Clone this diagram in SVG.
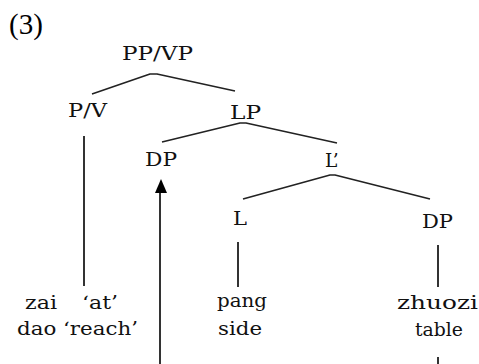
<svg xmlns="http://www.w3.org/2000/svg" width="479" height="364" viewBox="0 0 479 364">
<style>
.lbl{font-family:"DejaVu Serif","Liberation Serif",serif;font-size:18.5px;fill:#111}
.br{fill:none;stroke:#222;stroke-width:1.6;stroke-linejoin:round}
.vl{fill:none;stroke:#333;stroke-width:2}
</style>
<rect width="479" height="364" fill="#fff"/>
<text x="9" y="34" style="font-family:'Liberation Serif',serif;font-size:29px;fill:#000">(3)</text>
<g id="connectors">
<polyline class="br" points="92,94 150,74 157,74 235,91"/>
<polyline class="br" points="162,142 240,123 246,123 337,143"/>
<polyline class="br" points="243,199 330,175 335,175 430,199"/>
<line class="vl" x1="84" y1="136" x2="84" y2="286"/>
<line class="vl" x1="238" y1="242" x2="238" y2="287"/>
<line class="vl" x1="438" y1="245" x2="438" y2="287"/>
<line class="vl" x1="160" y1="364" x2="160" y2="192"/>
<polygon points="161,179 167,193 155,193" fill="#000"/>
<line class="vl" x1="438" y1="357" x2="438" y2="364"/>
</g>
<g id="n-ppvp"><text class="lbl" x="122" y="60" textLength="71" lengthAdjust="spacingAndGlyphs">PP/VP</text></g>
<g id="n-pv"><text class="lbl" x="68" y="117" textLength="39" lengthAdjust="spacingAndGlyphs">P/V</text></g>
<g id="n-lp"><text class="lbl" x="230" y="119" textLength="31" lengthAdjust="spacingAndGlyphs">LP</text></g>
<g id="n-dp1"><text class="lbl" x="145" y="166" textLength="32" lengthAdjust="spacingAndGlyphs">DP</text></g>
<g id="n-lbar"><text class="lbl" x="325" y="167">L’</text></g>
<g id="n-l"><text class="lbl" x="233" y="225" textLength="14" lengthAdjust="spacingAndGlyphs">L</text></g>
<g id="n-dp2"><text class="lbl" x="422" y="228" textLength="31" lengthAdjust="spacingAndGlyphs">DP</text></g>
<g id="n-zai">
<text class="lbl" x="25" y="309" textLength="32" lengthAdjust="spacingAndGlyphs">zai</text>
<text class="lbl" x="82" y="309" textLength="36" lengthAdjust="spacingAndGlyphs">‘at’</text>
<text class="lbl" x="17" y="335" textLength="121" lengthAdjust="spacingAndGlyphs">dao ‘reach’</text>
</g>
<g id="n-pang">
<text class="lbl" x="217" y="307" textLength="50" lengthAdjust="spacingAndGlyphs">pang</text>
<text class="lbl" x="218" y="335" textLength="44" lengthAdjust="spacingAndGlyphs">side</text>
</g>
<g id="n-zhuozi">
<text class="lbl" x="397" y="309" textLength="81" lengthAdjust="spacingAndGlyphs">zhuozi</text>
<text class="lbl" x="415" y="336" textLength="48" lengthAdjust="spacingAndGlyphs">table</text>
</g>
</svg>
